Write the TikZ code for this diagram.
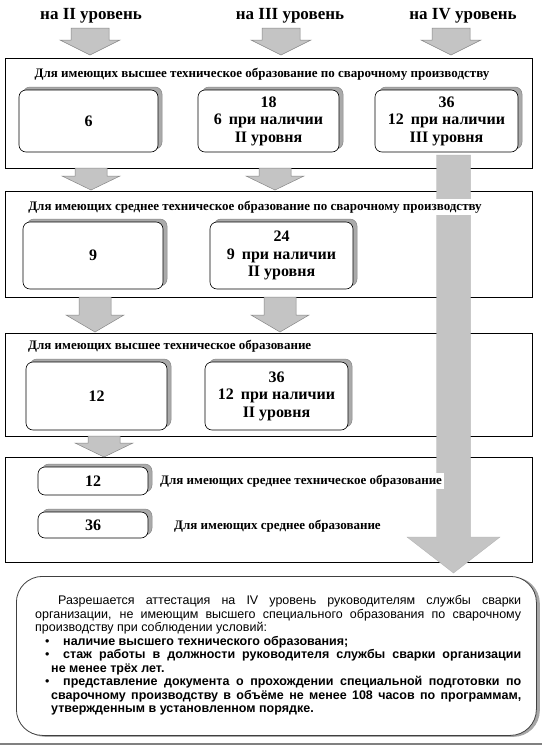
\documentclass[tikz,border=0pt]{standalone}
\usepackage{fontspec}
\setmainfont{Liberation Serif}
\newfontfamily\arialf{Liberation Sans}
\usetikzlibrary{shadows}
\definecolor{argray}{RGB}{196,196,196}
\definecolor{aredge}{RGB}{135,135,135}
\definecolor{shgray}{RGB}{170,170,170}
\tikzset{
  outer/.style={draw=black, line width=1.3pt, inner sep=0pt},
  pbox/.style={draw=black, line width=0.6pt, fill=white, rounded corners=7pt, inner sep=0pt,
    align=center, font=\bfseries\fontsize{16}{17.5}\selectfont,
    copy shadow={shadow xshift=4pt, shadow yshift=3pt, fill=shgray, draw=aredge, line width=0.5pt}},
  heading/.style={font=\bfseries\fontsize{17}{19}\selectfont, inner sep=0pt},
  btitle/.style={font=\bfseries\fontsize{13}{15}\selectfont, inner sep=2pt},
  blk/.style={fill=argray, draw=aredge, line width=0.5pt},
  bigblk/.style={fill=argray, draw=argray!90!black, line width=0.3pt},
  note/.style={draw=black!75, line width=0.8pt, fill=white, rounded corners=26pt, inner sep=0pt,
    copy shadow={shadow xshift=3pt, shadow yshift=-1pt, fill=gray!70, draw=gray!70}},
  ntxt/.style={font=\arialf\fontsize{12.5}{13.5}\selectfont, inner sep=0pt, anchor=base west},
  btxt/.style={font=\arialf\bfseries\fontsize{12.5}{13.5}\selectfont, inner sep=0pt, anchor=base west}
}
\newcommand\blkarrow[7]{%
  \draw[#7] (#1-#5,#2) -- (#1+#5,#2) -- (#1+#5,#3) -- (#1+#6,#3) -- (#1,#4)
    -- (#1-#6,#3) -- (#1-#5,#3) -- cycle;}
\begin{document}
\begin{tikzpicture}[x=1pt, y=-1pt]
\useasboundingbox (0,0) rectangle (550,750);
\fill[white] (0,0) rectangle (550,750);

% headings
\node[heading] (h2) at (91,16) {на II уровень};
\node[heading] (h3) at (290,16) {на III уровень};
\node[heading] (h4) at (463,16) {на IV уровень};

% top arrows
\blkarrow{90}{28}{40}{55}{19}{30}{blk}
\blkarrow{281}{28}{40}{55}{19}{30}{blk}
\blkarrow{451}{28}{40}{55}{19}{30}{blk}

% outer boxes
\node[outer, anchor=north west, minimum width=527pt, minimum height=110pt] (box1) at (5,58) {};
\node[outer, anchor=north west, minimum width=527pt, minimum height=106pt] (box2) at (5,191) {};
\node[outer, anchor=north west, minimum width=527pt, minimum height=103pt] (box3) at (5,333) {};
\node[outer, anchor=north west, minimum width=527pt, minimum height=105pt] (box4) at (5,457) {};

% row 1
\node[pbox, minimum width=139pt, minimum height=62pt] (a1) at (88.5,121) {6};
\node[pbox, minimum width=141pt, minimum height=62pt] (b1) at (268.5,121) {18\\6\hspace{7pt}при наличии\\II уровня};
\node[pbox, minimum width=143pt, minimum height=62pt] (c1) at (446.5,121) {36\\12\hspace{7pt}при наличии\\III уровня};

% row 2
\node[pbox, minimum width=140pt, minimum height=67pt] (a2) at (93,255.5) {9};
\node[pbox, minimum width=143pt, minimum height=67pt] (b2) at (281.5,255.5) {24\\9\hspace{7pt}при наличии\\II уровня};

% row 3
\node[pbox, minimum width=141pt, minimum height=68pt] (a3) at (96.5,396) {12};
\node[pbox, minimum width=143pt, minimum height=68pt] (b3) at (276.5,396) {36\\12\hspace{7pt}при наличии\\II уровня};

% row 4
\node[pbox, minimum width=110pt, minimum height=28pt] (a4) at (93,481) {12};
\node[pbox, minimum width=110pt, minimum height=26pt] (b4) at (93,525) {36};

% arrows between boxes
\blkarrow{91}{168}{176}{190}{16}{29}{blk}
\blkarrow{275}{168}{176}{190}{16}{29}{blk}
\blkarrow{95}{297}{315}{332}{16}{29}{blk}
\blkarrow{280}{297}{315}{332}{16}{29}{blk}
\blkarrow{104}{436}{443}{457}{16}{29}{blk}

% big IV arrow
\blkarrow{453.5}{155}{537}{573}{17}{46.5}{bigblk}

% titles
\node[btitle] (t1) at (262,74) {Для имеющих высшее техническое образование по сварочному производству};
\node[btitle, fill=white] (t2) at (255,207) {Для имеющих среднее техническое образование по сварочному производству};
\node[btitle, anchor=west] (t3) at (26,346) {Для имеющих высшее техническое образование};
\node[btitle, anchor=west, fill=white] (t4) at (158,481) {Для имеющих среднее техническое образование};
\node[btitle, anchor=west] (t5) at (172,526) {Для имеющих среднее образование};

% note box
\node[note, anchor=north west, minimum width=520pt, minimum height=159pt] (nb) at (16,576) {};
\node[ntxt] (l1) at (58,604.5) {\makebox[463pt][s]{Разрешается аттестация на IV уровень руководителям службы сварки}};
\node[ntxt] (l2) at (35,618) {\makebox[486pt][s]{организации, не имеющим высшего специального образования по сварочному}};
\node[ntxt] (l3) at (35,631.5) {производству при соблюдении условий:};
\node[ntxt] (d1) at (45,645) {•};
\node[btxt] (l4) at (63,645) {наличие высшего технического образования;};
\node[ntxt] (d2) at (45,658.5) {•};
\node[btxt] (l5) at (63,658.5) {\makebox[458pt][s]{стаж работы в должности руководителя службы сварки организации}};
\node[btxt] (l6) at (51,672) {не менее трёх лет.};
\node[ntxt] (d3) at (45,685.5) {•};
\node[btxt] (l7) at (63,685.5) {\makebox[458pt][s]{представление документа о прохождении специальной подготовки по}};
\node[btxt] (l8) at (51,699) {\makebox[470pt][s]{сварочному производству в объёме не менее 108 часов по программам,}};
\node[btxt] (l9) at (51,712.5) {утвержденным в установленном порядке.};

% bottom rule
\coordinate (r1) at (0,744);
\coordinate (r2) at (542,744);
\draw[gray, line width=1.2pt] (r1) -- (r2);
\end{tikzpicture}
\end{document}
